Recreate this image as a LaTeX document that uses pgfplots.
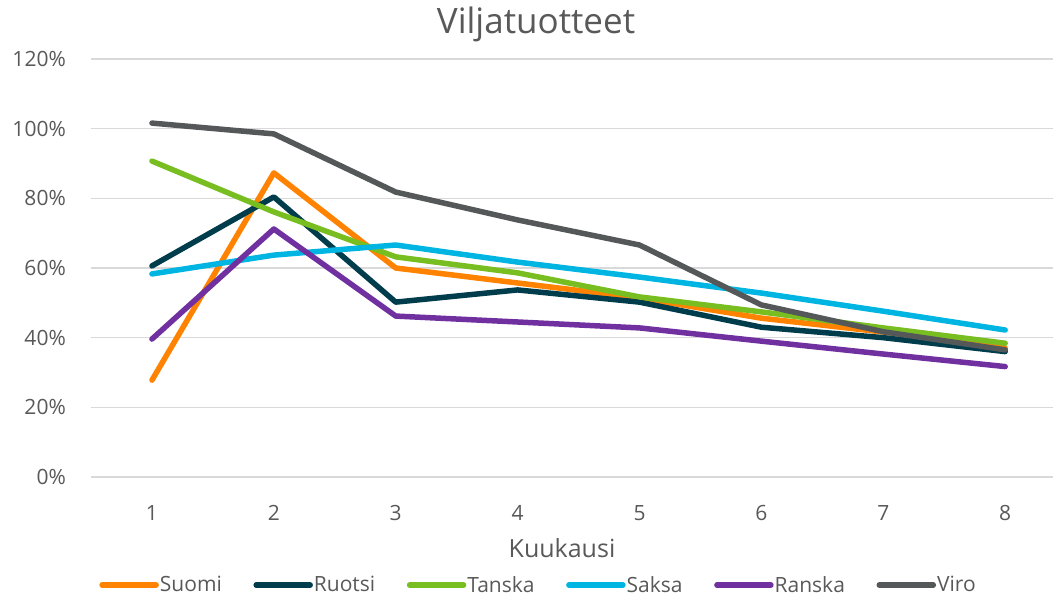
\documentclass[border=0pt]{standalone}
\usepackage{fontspec}
\setmainfont{Open Sans}
\usepackage{pgfplots}
\pgfplotsset{compat=1.18}
\definecolor{cSuomi}{RGB}{255,130,0}
\definecolor{cRuotsi}{RGB}{0,61,76}
\definecolor{cTanska}{RGB}{120,190,32}
\definecolor{cSaksa}{RGB}{0,181,226}
\definecolor{cRanska}{RGB}{112,48,160}
\definecolor{cViro}{RGB}{84,88,89}
\definecolor{txtc}{RGB}{89,89,89}
\definecolor{gridc}{RGB}{217,217,217}
\tikzset{ser/.style={line width=5.5bp, line join=round, line cap=round}}
\begin{document}
\begin{tikzpicture}
\begin{axis}[
  at={(0,0)}, anchor=south west,
  scale only axis, width=962bp, height=418bp,
  xmin=0.5, xmax=8.392, ymin=0, ymax=120,
  xtick={1,2,3,4,5,6,7,8},
  ytick={0,20,40,60,80,100,120},
  yticklabel={\pgfmathprintnumber{\tick}\%},
  /pgf/number format/assume math mode=true,
  axis line style={draw=none},
  major tick length=0pt,
  xmajorgrids=false, ymajorgrids=true,
  y grid style={draw=gridc, line width=1.3bp},
  tick label style={font=\fontsize{21bp}{25bp}\selectfont, text=txtc, inner sep=0pt},
  yticklabel style={anchor=east, xshift=-25bp},
  xticklabel style={anchor=north, yshift=-28bp},
  title={Viljatuotteet},
  title style={at={(0.4626,1.0471)}, anchor=base, font=\fontsize{35bp}{40bp}\selectfont, text=txtc, inner sep=0pt},
  xlabel={Kuukausi},
  xlabel style={at={(0.4896,-0.1931)}, anchor=base, font=\fontsize{25bp}{30bp}\selectfont, text=txtc, inner sep=0pt},
  legend columns=6,
  legend style={at={(0.4647,-0.2584)}, anchor=center, draw=none, fill=none,
    font=\fontsize{21bp}{25bp}\selectfont, text=txtc,
    /tikz/every even column/.append style={column sep=30.6bp},
    nodes={inner sep=1bp}},
  legend image code/.code={\draw[#1, line width=5.5bp, line cap=round] (0bp,0bp) -- (54bp,0bp);},
  clip=false,
]
\addplot[ser, cSuomi] coordinates {(1,27.8)(2,87.3)(3,60)(4,55.7)(5,51.4)(6,45.6)(7,41.6)(8,37)};
\addlegendentry{Suomi}
\addplot[ser, cRuotsi] coordinates {(1,60.6)(2,80.4)(3,50.2)(4,53.7)(5,50.2)(6,43)(7,40)(8,36)};
\addlegendentry{Ruotsi}
\addplot[ser, cTanska] coordinates {(1,90.7)(2,76.1)(3,63.2)(4,58.6)(5,51.7)(6,47.4)(7,42.8)(8,38.4)};
\addlegendentry{Tanska}
\addplot[ser, cSaksa] coordinates {(1,58.3)(2,63.7)(3,66.6)(4,61.7)(5,57.4)(6,52.8)(7,47.6)(8,42.2)};
\addlegendentry{Saksa}
\addplot[ser, cRanska] coordinates {(1,39.6)(2,71.2)(3,46.2)(4,44.5)(5,42.8)(6,39)(7,35.3)(8,31.7)};
\addlegendentry{Ranska}
\addplot[ser, cViro] coordinates {(1,101.6)(2,98.5)(3,81.8)(4,73.8)(5,66.6)(6,49.4)(7,41.7)(8,36.5)};
\addlegendentry{Viro}
\end{axis}
\pgfresetboundingbox
\path[use as bounding box] (-91bp,-120bp) rectangle (962bp,477bp);
\end{tikzpicture}
\end{document}
